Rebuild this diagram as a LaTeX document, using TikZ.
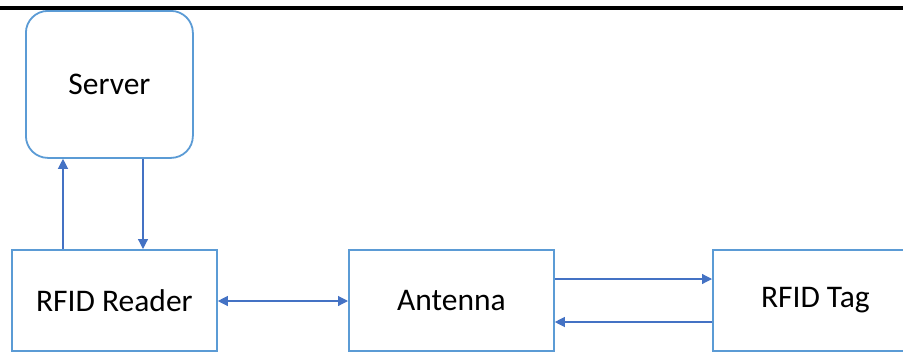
\documentclass[tikz,border=0pt]{standalone}
\usepackage{fontspec}
\setmainfont{Carlito}
\usetikzlibrary{arrows.meta}
\definecolor{boxblue}{HTML}{5B9BD5}
\definecolor{arrblue}{HTML}{4472C4}
\begin{document}
\begin{tikzpicture}[x=1bp,y=-1bp,
  box/.style={draw=boxblue,line width=1.8bp,minimum width=205bp,minimum height=101bp,inner sep=0pt,
    font=\fontsize{31.5bp}{36bp}\selectfont,anchor=north west},
  conn/.style={draw=arrblue,line width=1.2bp,-{Triangle[width=10bp,length=10bp]}},
  dconn/.style={draw=arrblue,line width=1.2bp,{Triangle[width=10bp,length=10bp]}-{Triangle[width=10bp,length=10bp]}}]
\useasboundingbox (0,0) rectangle (903,352);
\clip (0,0) rectangle (903,352);
\fill[black] (0,6) rectangle (903,10);
\node[box,rounded corners=22bp,minimum width=167bp,minimum height=147bp] (server) at (25,10) {Server};
\node[box] (reader) at (11,249) {RFID Reader};
\node[box] (antenna) at (348,249) {Antenna};
\node[box] (tag) at (712,249) {RFID Tag};
\draw[conn] (reader.north west -| 63,0) -- (server.south west -| 63,0);
\draw[conn] (server.south west -| 143,0) -- (reader.north west -| 143,0);
\draw[dconn] (reader.east |- 0,301) -- (antenna.west |- 0,301);
\draw[conn] (antenna.east |- 0,279) -- (tag.west |- 0,279);
\draw[conn] (tag.west |- 0,322) -- (antenna.east |- 0,322);
\end{tikzpicture}
\end{document}
